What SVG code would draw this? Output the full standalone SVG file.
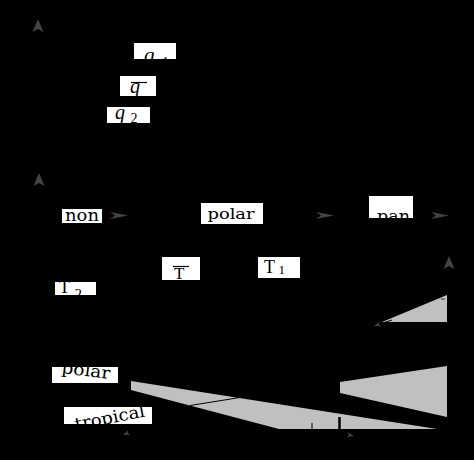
<svg xmlns="http://www.w3.org/2000/svg" width="474" height="460" viewBox="0 0 474 460">
<style>
.box{fill:#ffffff;stroke:none}
.lbl{font-family:"DejaVu Serif","Liberation Serif",serif;fill:#000}
.it{font-family:"Liberation Serif","DejaVu Serif",serif;font-style:italic;fill:#000}
.rm{font-family:"Liberation Serif","DejaVu Serif",serif;fill:#000}
.con{stroke:#000;stroke-width:1;fill:none}
.shade{fill:#c0c0c0;stroke:none}
.bar{stroke:#000;stroke-width:1.2}
</style>
<defs>
<marker id="ahUp" markerUnits="userSpaceOnUse" markerWidth="16" markerHeight="14" viewBox="-14 -7 16 14" refX="0" refY="0" orient="auto">
<path d="M0,0 L-13,-5.5 L-10,0 L-13,5.5 Z" fill="#444"/>
</marker>
<marker id="ahLong" markerUnits="userSpaceOnUse" markerWidth="20" markerHeight="10" viewBox="-19 -5 20 10" refX="0" refY="0" orient="auto">
<path d="M0,0 L-18,-3.5 L-13,0 L-18,3.5 Z" fill="#444"/>
</marker>
<marker id="ahSmall" markerUnits="userSpaceOnUse" markerWidth="10" markerHeight="8" viewBox="-8 -4 10 8" refX="0" refY="0" orient="auto">
<path d="M0,0 L-7,-2.5 L-5,0 L-7,2.5 Z" fill="#444"/>
</marker>
</defs>
<rect x="0" y="0" width="474" height="460" fill="#000"/>

<g id="shapes">
<polygon class="shade" points="382,322 447,295 447,322"/>
<line x1="441" y1="299" x2="445" y2="299" stroke="#333" stroke-width="1"/>
<polygon class="shade" points="340,382 447,366 447,417 340,393"/>
<polygon class="shade" points="131,381 437,429 279,429 131,390"/>
<line x1="190" y1="405.5" x2="240" y2="397.5" stroke="#000" stroke-width="1"/>
<line x1="312" y1="423" x2="312" y2="430" stroke="#000" stroke-width="1"/>
<line x1="339.5" y1="417" x2="339.5" y2="430" stroke="#000" stroke-width="2.5"/>
</g>

<g id="connectors">
<line class="con" x1="38" y1="165" x2="38" y2="19" marker-end="url(#ahUp)"/>
<line class="con" x1="39" y1="445" x2="39" y2="173" marker-end="url(#ahUp)"/>
<line class="con" x1="102" y1="215.5" x2="128" y2="215.5" marker-end="url(#ahLong)"/>
<line class="con" x1="263" y1="215.5" x2="334" y2="215.5" marker-end="url(#ahLong)"/>
<line class="con" x1="413" y1="215.5" x2="449" y2="215.5" marker-end="url(#ahLong)"/>
<line class="con" x1="449" y1="330" x2="449" y2="256" marker-end="url(#ahUp)"/>
<line class="con" x1="392" y1="320" x2="374" y2="326" marker-end="url(#ahSmall)"/>
<line class="con" x1="140" y1="428" x2="123" y2="435" marker-end="url(#ahSmall)"/>
<line class="con" x1="335" y1="432" x2="354" y2="436" marker-end="url(#ahSmall)"/>
</g>

<g id="q1">
<rect class="box" x="134" y="43" width="42" height="16"/>
<text class="it" x="144" y="62" font-size="21">q</text>
<text class="rm" x="162" y="67" font-size="14">1</text>
</g>
<g id="qbar">
<rect class="box" x="120" y="76" width="36" height="20"/>
<line class="bar" x1="131" y1="82.5" x2="147" y2="82.5"/>
<text class="it" x="130" y="93" font-size="20">q</text>
</g>
<g id="q2">
<rect class="box" x="107" y="107" width="43" height="16"/>
<text class="it" x="115" y="118.5" font-size="20">q</text>
<text class="rm" x="130.5" y="122.5" font-size="14">2</text>
</g>

<g id="non">
<rect class="box" x="62" y="209" width="40" height="14"/>
<text class="lbl" x="65" y="220.5" font-size="16" textLength="34" lengthAdjust="spacingAndGlyphs">non</text>
</g>
<g id="polar-top">
<rect class="box" x="201" y="203" width="62" height="21"/>
<text class="lbl" x="207.5" y="218.5" font-size="15" textLength="47" lengthAdjust="spacingAndGlyphs">polar</text>
</g>
<g id="pan">
<rect class="box" x="369" y="196" width="44" height="22"/>
<text class="lbl" x="377" y="222" font-size="17" textLength="33" lengthAdjust="spacingAndGlyphs">pan</text>
</g>

<g id="Tbar">
<rect class="box" x="162" y="257" width="38" height="23"/>
<line class="bar" x1="173" y1="266.5" x2="189" y2="266.5"/>
<text class="rm" x="174" y="278.5" font-size="17">T</text>
</g>
<g id="T1">
<rect class="box" x="258" y="257" width="42" height="21"/>
<text class="rm" x="264" y="273" font-size="18">T</text>
<text class="rm" x="278.5" y="274" font-size="13">1</text>
</g>
<g id="T2">
<rect class="box" x="55" y="282" width="41" height="13"/>
<text class="rm" x="59" y="293" font-size="18">T</text>
<text class="rm" x="74.5" y="299" font-size="15">2</text>
</g>

<g id="polar-low">
<rect class="box" x="52" y="367" width="66" height="16"/>
<text class="lbl" x="61" y="373" font-size="17" textLength="49" lengthAdjust="spacingAndGlyphs" transform="rotate(7 61 373)">polar</text>
</g>
<g id="tropical">
<rect class="box" x="64" y="407" width="88" height="17"/>
<text class="lbl" x="76" y="430" font-size="17" textLength="71" lengthAdjust="spacingAndGlyphs" transform="rotate(-11 76 430)">tropical</text>
</g>
</svg>
